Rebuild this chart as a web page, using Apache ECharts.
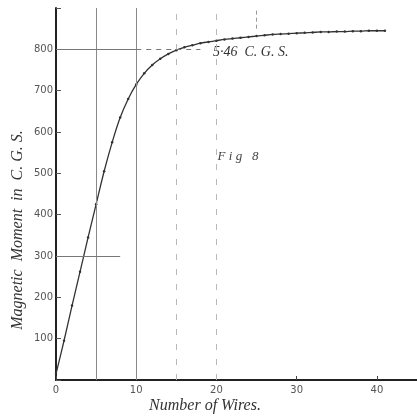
<!DOCTYPE html>
<html>
<head>
<meta charset="utf-8">
<style>
  html, body { margin: 0; padding: 0; background: #fff; }
  #chart { width: 417px; height: 419px; }
</style>
<script src="https://cdn.jsdelivr.net/npm/echarts@6/dist/echarts.min.js"></script>
</head>
<body>
<div id="chart"></div>
<script>
// Number of wires in the bundle
const wires = [0, 1, 2, 3, 4, 5, 6, 7, 8, 9, 10, 11, 12, 13, 14, 15, 16, 17, 18, 19, 20,
  21, 22, 23, 24, 25, 26, 27, 28, 29, 30, 31, 32, 33, 34, 35, 36, 37, 38, 39, 40, 41];
// Magnetic moment (C.G.S.) measured for each bundle
const moment = [15, 95, 180, 262, 345, 425, 505, 575, 635, 680, 715, 742, 762, 777, 789, 798,
  805, 810, 815, 818, 821, 824, 826, 828, 830, 832, 834, 836, 837, 838, 839, 840, 841,
  842, 842, 843, 843, 844, 844, 845, 845, 845];
// Ruled guide lines on the sheet
const solidGuideX = [5, 10];
const dashedGuideX = [15, 20];
const shortGuideX = [25];
const guideY = [800, 300];
const guideYEnd = [10, 8];
const guideYDashedEnd = [18, 8];
const yTicks = [100, 200, 300, 400, 500, 600, 700, 800];
const xTicks = [0, 10, 20, 30, 40];

const xMax = 45, yMax = 900;
const serif = '"Liberation Serif", "DejaVu Serif", serif';
const sans = '"DejaVu Sans", sans-serif';

const guideLines = [];
solidGuideX.forEach(x => guideLines.push([
  { coord: [x, 0], lineStyle: { color: '#8a8a8a', width: 1, type: 'solid' } },
  { coord: [x, yMax] }]));
dashedGuideX.forEach(x => guideLines.push([
  { coord: [x, 0], lineStyle: { color: '#b8b8b8', width: 1, type: [6, 9] } },
  { coord: [x, yMax] }]));
shortGuideX.forEach(x => guideLines.push([
  { coord: [x, yMax - 50], lineStyle: { color: '#999', width: 1, type: [4, 3] } },
  { coord: [x, yMax] }]));
guideY.forEach((y, i) => {
  guideLines.push([
    { coord: [0, y], lineStyle: { color: '#777', width: 1, type: 'solid' } },
    { coord: [guideYEnd[i], y] }]);
  if (guideYDashedEnd[i] > guideYEnd[i]) {
    guideLines.push([
      { coord: [guideYEnd[i], y], lineStyle: { color: '#777', width: 1, type: [5, 5] } },
      { coord: [guideYDashedEnd[i], y] }]);
  }
});

const chart = echarts.init(document.getElementById('chart'), null, { renderer: 'canvas' });
chart.setOption({
  animation: false,
  backgroundColor: '#fff',
  grid: { left: 56, right: 0, top: 8, bottom: 39 },
  xAxis: [{
    type: 'value', min: 0, max: xMax, interval: 10,
    axisLine: { show: true, onZero: false, lineStyle: { color: '#222', width: 2 } },
    axisTick: { show: true, inside: true, length: 4, lineStyle: { color: '#444' } },
    axisLabel: { color: '#555', fontFamily: sans, fontSize: 10, margin: 5, showMaxLabel: false,
      formatter: v => xTicks.includes(v) ? String(v) : '' },
    splitLine: { show: false }
  }, {
    type: 'value', position: 'top', min: 0, max: xMax,
    axisLine: { show: true, lineStyle: { color: '#222', width: 2 } },
    axisTick: { show: false }, axisLabel: { show: false }, splitLine: { show: false }
  }],
  yAxis: {
    type: 'value', min: 0, max: yMax, interval: 100,
    axisLine: { show: true, lineStyle: { color: '#222', width: 2 } },
    axisTick: { show: true, inside: true, length: 5, lineStyle: { color: '#555' } },
    axisLabel: { color: '#555', fontFamily: sans, fontSize: 10, margin: 3,
      formatter: v => yTicks.includes(v) ? String(v) : '' },
    splitLine: { show: false }
  },
  graphic: [
    { type: 'text', x: 18, y: 230, rotation: Math.PI / 2,
      style: { text: 'Magnetic  Moment  in  C. G. S.', font: 'italic 16px ' + serif, fill: '#333',
        textAlign: 'center', textVerticalAlign: 'middle' } },
    { type: 'text', x: 205, y: 406,
      style: { text: 'Number of Wires.', font: 'italic 16px ' + serif, fill: '#333',
        textAlign: 'center', textVerticalAlign: 'middle' } },
    { type: 'text', x: 238, y: 157,
      style: { text: 'F i g   8', font: 'italic 13px ' + serif, fill: '#444',
        textAlign: 'center', textVerticalAlign: 'middle' } },
    { type: 'text', x: 213, y: 52,
      style: { text: '5·46  C. G. S.', font: 'italic 14px ' + serif, fill: '#333',
        textAlign: 'left', textVerticalAlign: 'middle' } }
  ],
  series: [{
    type: 'line',
    data: wires.map((w, i) => [w, moment[i]]),
    smooth: 0.3,
    symbol: 'circle', symbolSize: 2.5,
    itemStyle: { color: '#333' },
    lineStyle: { color: '#333', width: 1.3 },
    markLine: { silent: true, symbol: 'none', label: { show: false }, data: guideLines },
    z: 3
  }]
});
</script>
</body>
</html>
